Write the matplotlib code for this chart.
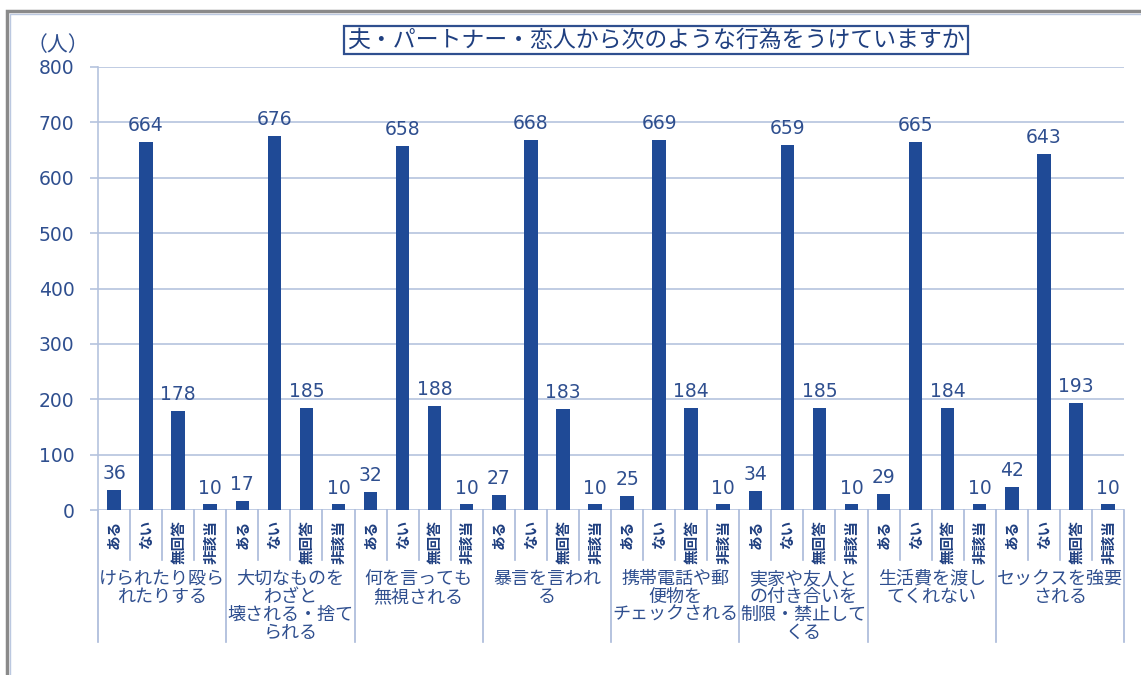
import matplotlib.pyplot as plt
from matplotlib.patches import Rectangle
from matplotlib.lines import Line2D

plt.rcParams['font.family'] = ['Noto Sans CJK JP', 'DejaVu Sans']

groups = ['けられたり殴ら\nれたりする',
          '大切なものを\nわざと\n壊される・捨て\nられる',
          '何を言っても\n無視される',
          '暴言を言われ\nる',
          '携帯電話や郵\n便物を\nチェックされる',
          '実家や友人と\nの付き合いを\n制限・禁止して\nくる',
          '生活費を渡し\nてくれない',
          'セックスを強要\nされる']
answers = ['ある', 'ない', '無回答', '非該当']
aru = [36, 17, 32, 27, 25, 34, 29, 42]
nai = [664, 676, 658, 668, 669, 659, 665, 643]
mukaitou = [178, 185, 188, 183, 184, 185, 184, 193]
higaitou = [10, 10, 10, 10, 10, 10, 10, 10]
title = '夫・パートナー・恋人から次のような行為をうけていますか'

bar_color = '#1F4A96'
text_color = '#2F4F8F'
grid_color = '#B5C3DE'

fig = plt.figure(figsize=(11.41, 6.75), dpi=100)
ax = fig.add_axes([98 / 1141, 1 - 510 / 675, 1026 / 1141, 443 / 675])

series = [aru, nai, mukaitou, higaitou]
n = len(answers)
for g in range(len(groups)):
    for j, vals in enumerate(series):
        x = g * n + j
        ax.bar(x, vals[g], width=0.42, color=bar_color, zorder=3)
        ax.annotate(str(vals[g]), (x, vals[g]), xytext=(0, 5), textcoords='offset points',
                    ha='center', va='bottom', fontsize=13.5, color=text_color,
                    family='DejaVu Sans')
        ax.text(x, -0.022, answers[j], transform=ax.get_xaxis_transform(), rotation=90,
                ha='center', va='top', fontsize=10.5, color='#1F3F80', fontweight='bold')
    ax.text(g * n + 1.5, -0.135, groups[g], transform=ax.get_xaxis_transform(),
            ha='center', va='top', fontsize=13, color=text_color, linespacing=1.0)

# category separators
tr = ax.get_xaxis_transform()
for k in range(len(groups) * n + 1):
    bottom = -0.298 if k % n == 0 else -0.113
    ax.add_line(Line2D([k - 0.5, k - 0.5], [0, bottom], transform=tr, color='#A9B9D9',
                       lw=1.2, clip_on=False))

ax.set_xlim(-0.5, len(groups) * n - 0.5)
ax.set_ylim(0, 800)
ax.set_yticks(range(0, 801, 100))
ax.set_xticks([])
ax.grid(axis='y', color=grid_color, lw=1.2, zorder=0)
ax.tick_params(axis='y', length=6, color=grid_color, width=1.2, pad=11,
               labelsize=13.5, labelcolor=text_color)
for lab in ax.get_yticklabels():
    lab.set_family('DejaVu Sans')
for side in ['top', 'right', 'bottom']:
    ax.spines[side].set_visible(False)
ax.spines['left'].set_color(grid_color)
ax.spines['left'].set_linewidth(1.2)

fig.text(58 / 1141, 1 - 45 / 675, '（人）', ha='center', va='center', fontsize=15,
         color=text_color)
fig.text(656 / 1141, 1 - 40 / 675, title, ha='center', va='center', fontsize=16.5,
         color='#1F3F80',
         bbox=dict(boxstyle='square,pad=0.12', fc='white', ec='#2F4F8F', lw=1.6))

# outer frame
fig.add_artist(Rectangle((7 / 1141, -0.2), 1.2, 1.2 - 11 / 675, transform=fig.transFigure,
                         fill=False, ec='#8A8A8A', lw=2.5))
fig.add_artist(Rectangle((9.5 / 1141, -0.2), 1.2, 1.2 - 13.5 / 675, transform=fig.transFigure,
                         fill=False, ec='#BBC8E0', lw=1))

fig.savefig('out.png', dpi=100)
